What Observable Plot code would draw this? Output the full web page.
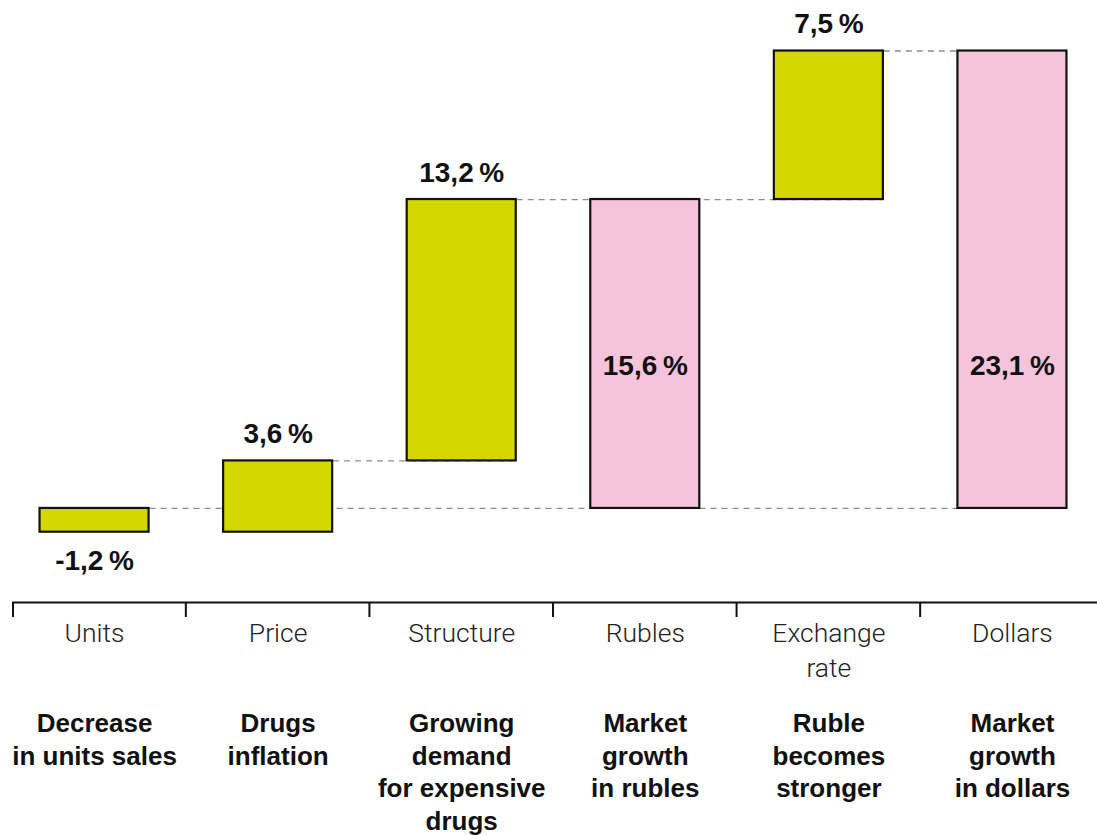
<!DOCTYPE html>
<html>
<head>
<meta charset="utf-8">
<script src="https://cdn.jsdelivr.net/npm/d3@7"></script>
<script src="https://cdn.jsdelivr.net/npm/@observablehq/plot@0.6"></script>
<style>
  html, body { margin: 0; padding: 0; background: #fff; }
  #chart svg { overflow: visible; display: block; }
</style>
</head>
<body>
<div id="chart"></div>
<script>
// ---- data ----
const categories = ["Units", "Price", "Structure", "Rubles", "Exchange rate", "Dollars"];
const axisLabels = ["Units", "Price", "Structure", "Rubles", "Exchange\nrate", "Dollars"];
const values = [-1.2, 3.6, 13.2, 15.6, 7.5, 23.1];
const kinds = ["change", "change", "change", "total", "change", "total"];
const descriptions = [
  "Decrease\nin units sales",
  "Drugs\ninflation",
  "Growing\ndemand\nfor expensive\ndrugs",
  "Market\ngrowth\nin rubles",
  "Ruble\nbecomes\nstronger",
  "Market\ngrowth\nin dollars"
];

// ---- waterfall table ----
let running = 0;
const bars = categories.map((cat, i) => {
  const v = values[i];
  let start, end;
  if (kinds[i] === "total") { start = 0; end = v; running = v; }
  else { start = running; end = running + v; running = end; }
  start = Math.round(start * 10) / 10;
  end = Math.round(end * 10) / 10;
  return {cat, value: v, kind: kinds[i], start, end,
          top: Math.max(start, end), bottom: Math.min(start, end),
          label: v.toFixed(1).replace(".", ",") + "\u202F%",
          axisLabel: axisLabels[i], description: descriptions[i]};
});

// dashed connectors at each bar top level, spanning every bar touching that level
const levels = [...new Set(bars.map(d => d.top))];
const connectors = levels.map(level => {
  const idx = bars.map((d, i) => (d.start === level || d.end === level) ? i : -1).filter(i => i >= 0);
  return {level, from: categories[d3.min(idx)], to: categories[d3.max(idx)]};
}).filter(c => c.from !== c.to);

const yBase = -4.75;
const pxPerUnit = 19.8;
const tickLen = 15 / pxPerUnit;
const totalLabelY = 7.2;

const changeLabelsUp = bars.filter(d => d.kind === "change" && d.value >= 0);
const changeLabelsDown = bars.filter(d => d.kind === "change" && d.value < 0);
const totalLabels = bars.filter(d => d.kind === "total");

const W = 1097, ML = 12, MR = 3;
const padInner = 0.406;
const padOuter = 0.15;
const step = (W - ML - MR) / (6 - padInner + 2 * padOuter);

const bold = "'Liberation Sans', Arial, Helvetica, sans-serif";
const light = "Roboto, 'Liberation Sans', sans-serif";

const chart = Plot.plot({
  width: W,
  height: 835,
  marginTop: 3,
  marginBottom: 233,
  marginLeft: ML,
  marginRight: MR,
  x: {domain: categories, paddingInner: padInner, paddingOuter: padOuter, round: false, axis: null},
  y: {domain: [yBase, 25.5], axis: null},
  color: {domain: ["change", "total"], range: ["#d5d700", "#f5c4da"]},
  style: {fontFamily: bold, background: "white"},
  marks: [
    Plot.ruleY(connectors, {y: "level", x1: "from", x2: "to", stroke: "#8c8c8c", strokeWidth: 1.3, strokeDasharray: "6,5"}),
    Plot.barY(bars, {x: "cat", y1: "start", y2: "end", fill: "kind", stroke: "#111", strokeWidth: 2.2}),
    Plot.text(changeLabelsUp, {x: "cat", y: "top", text: "label", dy: -27, lineAnchor: "middle", fontSize: 28, fontWeight: "bold", fill: "#111"}),
    Plot.text(changeLabelsDown, {x: "cat", y: "bottom", text: "label", dy: 29, lineAnchor: "middle", fontSize: 28, fontWeight: "bold", fill: "#111"}),
    Plot.text(totalLabels, {x: "cat", y: () => totalLabelY, text: "label", lineAnchor: "middle", fontSize: 28, fontWeight: "bold", fill: "#111"}),
    // axis line
    Plot.ruleY([yBase], {stroke: "#111", strokeWidth: 2.2, insetRight: -MR}),
    // boundary ticks
    Plot.barY(bars.slice(0, 1), {x: "cat", y1: () => yBase, y2: () => yBase - tickLen, fill: "#111",
      insetRight: step * (1 - padInner) - 2, dx: -padOuter * step}),
    Plot.barY(bars.slice(1), {x: "cat", y1: () => yBase, y2: () => yBase - tickLen, fill: "#111",
      insetRight: step * (1 - padInner) - 2, dx: -padInner * step / 2 - 1}),
    // category labels
    Plot.text(bars, {x: "cat", y: () => yBase, text: "axisLabel", lineAnchor: "top", dy: 15, lineHeight: 1.32,
      fontSize: 26.5, fontWeight: 300, fontFamily: light, fill: "#222"}),
    // descriptions
    Plot.text(bars, {x: "cat", y: () => yBase, text: "description", lineAnchor: "top", dy: 107, lineHeight: 1.245,
      fontSize: 26, fontWeight: "bold", fill: "#111"})
  ]
});
document.getElementById("chart").appendChild(chart);
</script>
</body>
</html>
